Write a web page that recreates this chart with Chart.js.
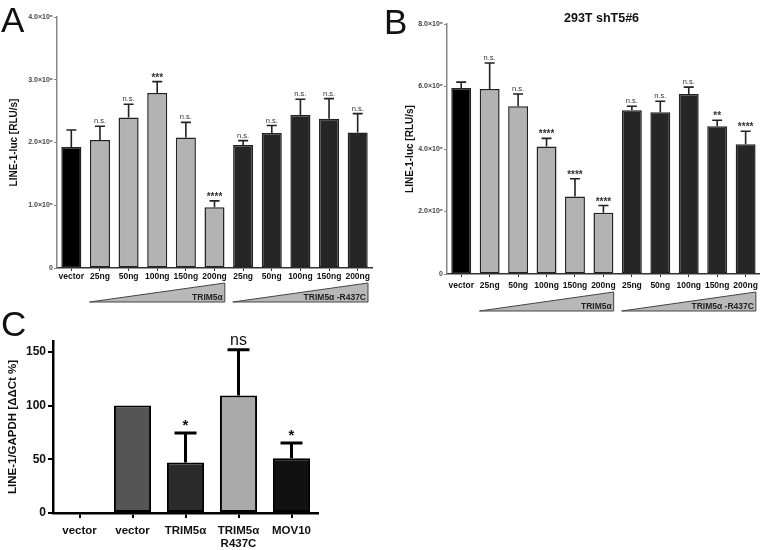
<!DOCTYPE html>
<html><head><meta charset="utf-8">
<script src="https://cdn.jsdelivr.net/npm/chart.js@4/dist/chart.umd.min.js"></script>
<style>
body{margin:0;background:#fff;width:762px;height:550px;position:relative;overflow:hidden;font-family:Arial,"Liberation Sans",sans-serif}
canvas{position:absolute}
.letter{position:absolute;font-size:35px;line-height:1;color:#111;font-family:Arial,"Liberation Sans",sans-serif}
.title{position:absolute;font-weight:bold;font-size:12.5px;color:#111;font-family:Arial,"Liberation Sans",sans-serif}
</style></head><body>
<canvas id="cA" width="380" height="320" style="left:0;top:0"></canvas>
<canvas id="cB" width="382" height="330" style="left:380px;top:0"></canvas>
<canvas id="cC" width="400" height="250" style="left:0;top:300px"></canvas>
<div class="letter" style="left:1px;top:2px">A</div>
<div class="letter" style="left:384px;top:4px">B</div>
<div class="letter" style="left:1px;top:306px">C</div>
<div class="title" style="left:564px;top:11px">293T shT5#6</div>
<script>
// ---------- data ----------
const doseLabels = ['vector','25ng','50ng','100ng','150ng','200ng','25ng','50ng','100ng','150ng','200ng'];
const groupNames = ['TRIM5\u03b1', 'TRIM5\u03b1 -R437C'];
const aValues = [1.93e6, 2.04e6, 2.40e6, 2.79e6, 2.08e6, 0.97e6, 1.96e6, 2.15e6, 2.44e6, 2.38e6, 2.16e6];
const aErrors = [0.27e6, 0.22e6, 0.21e6, 0.18e6, 0.24e6, 0.10e6, 0.07e6, 0.12e6, 0.25e6, 0.32e6, 0.30e6];
const aSig = ['', 'n.s.', 'n.s.', '***', 'n.s.', '****', 'n.s.', 'n.s.', 'n.s.', 'n.s.', 'n.s.'];
const aTicks = [0, 1e6, 2e6, 3e6, 4e6];
const bValues = [5.95e6, 5.92e6, 5.37e6, 4.08e6, 2.48e6, 1.96e6, 5.24e6, 5.18e6, 5.76e6, 4.73e6, 4.15e6];
const bErrors = [0.19e6, 0.83e6, 0.39e6, 0.26e6, 0.57e6, 0.23e6, 0.13e6, 0.35e6, 0.22e6, 0.19e6, 0.42e6];
const bSig = ['', 'n.s.', 'n.s.', '****', '****', '****', 'n.s.', 'n.s.', 'n.s.', '**', '****'];
const bTicks = [0, 2e6, 4e6, 6e6, 8e6];
const cLabels = ['vector', 'vector', 'TRIM5\u03b1', ['TRIM5\u03b1', 'R437C'], 'MOV10'];
const cValues = [0, 100, 46.9, 109.3, 51];
const cErrors = [null, null, 27.6, 42.6, 14.2];
const cSig = ['', '', '*', 'ns', '*'];
const cTicks = [0, 50, 100, 150];

const FONT = 'Arial, "Liberation Sans", sans-serif';
const abColors = ['#000000','#b3b3b3','#b3b3b3','#b3b3b3','#b3b3b3','#b3b3b3','#262626','#262626','#262626','#262626','#262626'];
const cColors = ['#ffffff','#555555','#2b2b2b','#aaaaaa','#111111'];

const annot = {
  id: 'annot',
  afterDatasetsDraw(chart, args, o) {
    const ctx = chart.ctx, ys = chart.scales.y, xs = chart.scales.x;
    const meta = chart.getDatasetMeta(0);
    ctx.save();
    o.values.forEach((v, i) => {
      const e = o.errors[i];
      if (e == null) return;
      const x = meta.data[i].x;
      const y0 = ys.getPixelForValue(v), y1 = ys.getPixelForValue(v + e);
      ctx.strokeStyle = o.errColor; ctx.lineWidth = o.errWidth; ctx.lineCap = 'butt';
      ctx.beginPath();
      ctx.moveTo(x, y0); ctx.lineTo(x, y1);
      ctx.moveTo(x - o.cap / 2, y1); ctx.lineTo(x + o.cap / 2, y1);
      ctx.stroke();
      const s = o.sig[i];
      if (s) {
        const isNs = s[0] === 'n';
        ctx.font = isNs ? o.nsFont : o.starFont;
        ctx.fillStyle = o.textColor; ctx.textAlign = 'center'; ctx.textBaseline = 'alphabetic';
        ctx.fillText(s, x, y1 + (isNs ? o.nsOff : o.starOff));
      }
    });
    if (o.groups) {
      const slot = xs.getPixelForValue(1) - xs.getPixelForValue(0);
      const b = chart.chartArea.bottom;
      o.groups.forEach(g => {
        const l = xs.getPixelForValue(g.from) - slot * 0.36;
        const r = xs.getPixelForValue(g.to) + slot * 0.36;
        const t = b + o.triTop, bt = b + o.triBot;
        ctx.beginPath();
        ctx.moveTo(l, bt); ctx.lineTo(r, t); ctx.lineTo(r, bt); ctx.closePath();
        ctx.fillStyle = '#b8b8b8'; ctx.fill();
        ctx.strokeStyle = '#444'; ctx.lineWidth = 1; ctx.stroke();
        ctx.font = 'bold 8.5px ' + FONT; ctx.fillStyle = '#222'; ctx.textAlign = 'right';
        ctx.fillText(g.name, r - 2, bt - 2);
      });
    }
    ctx.restore();
  }
};

function luc(id, values, errors, sig, ticks, max, pad, yW, xH, yTitleSize, triTop, triBot, labPad) {
  return new Chart(document.getElementById(id), {
    type: 'bar',
    data: { labels: doseLabels, datasets: [{ data: values, backgroundColor: abColors, borderColor: '#222', borderWidth: 1.5, borderSkipped: false, barPercentage: 0.7, categoryPercentage: 1.0 }] },
    options: {
      responsive: false, animation: false, devicePixelRatio: 1,
      layout: { padding: pad },
      plugins: { legend: { display: false }, tooltip: { enabled: false },
        annot: { values, errors, sig, errColor: '#222', errWidth: 1.6, cap: 10, nsFont: '7.5px ' + FONT, starFont: 'bold 10px ' + FONT, textColor: '#333', nsOff: -3, starOff: -1,
          groups: [{ from: 1, to: 5, name: groupNames[0] }, { from: 6, to: 10, name: groupNames[1] }], triTop, triBot } },
      scales: {
        x: { grid: { display: true, drawOnChartArea: false, offset: false, tickLength: 3, color: '#333' }, border: { color: '#333', width: 1.5 },
             ticks: { color: '#111', font: { family: FONT, size: 8.5, weight: 'bold' }, padding: labPad, maxRotation: 0, autoSkip: false },
             afterFit: s => { s.height = xH; } },
        y: { min: 0, max: max, grid: { display: true, drawOnChartArea: false, tickLength: 3, color: '#888' }, border: { color: '#888', width: 1.5 },
             afterBuildTicks: s => { s.ticks = ticks.map(v => ({ value: v })); },
             ticks: { color: '#444', font: { family: FONT, size: 7, weight: 'bold' }, padding: 1,
                      callback: v => v === 0 ? '0' : (v / 1e6).toFixed(1) + '\u00d710\u2076' },
             title: { display: true, text: 'LINE-1-luc [RLU/s]', color: '#111', font: { family: FONT, size: yTitleSize, weight: 'bold' }, padding: 0 },
             afterFit: s => { s.width = yW; } }
      }
    },
    plugins: [annot]
  });
}

luc('cA', aValues, aErrors, aSig, aTicks, 4e6, { left: 8, right: 8, top: 17, bottom: 38 }, 49, 14, 10, 15, 34, 1);
luc('cB', bValues, bErrors, bSig, bTicks, 8e6, { left: 24, right: 2, top: 24, bottom: 40 }, 43, 16, 10, 18, 37, 4);

new Chart(document.getElementById('cC'), {
  type: 'bar',
  data: { labels: cLabels, datasets: [{ data: cValues, backgroundColor: cColors, borderColor: '#000', borderWidth: 2, borderSkipped: false, barPercentage: 0.7, categoryPercentage: 1.0 }] },
  options: {
    responsive: false, animation: false, devicePixelRatio: 1,
    layout: { padding: { left: 6, right: 82, top: 41, bottom: 3 } },
    plugins: { legend: { display: false }, tooltip: { enabled: false },
      annot: { values: cValues, errors: cErrors, sig: cSig, errColor: '#000', errWidth: 3, cap: 22, nsFont: '16px ' + FONT, starFont: 'bold 15px ' + FONT, textColor: '#111', nsOff: -5, starOff: -3 } },
    scales: {
      x: { grid: { display: true, drawOnChartArea: false, offset: false, tickLength: 5, color: '#000', lineWidth: 2 }, border: { color: '#000', width: 2.5 },
           ticks: { color: '#111', font: { family: FONT, size: 11.5, weight: 'bold', lineHeight: 1.1 }, padding: 7, maxRotation: 0, autoSkip: false },
           afterFit: s => { s.height = 34; } },
      y: { min: 0, max: 160, grid: { display: true, drawOnChartArea: false, tickLength: 5, color: '#000', lineWidth: 2 }, border: { color: '#000', width: 2.5 },
           afterBuildTicks: s => { s.ticks = cTicks.map(v => ({ value: v })); },
           ticks: { color: '#111', font: { family: FONT, size: 12, weight: 'bold' }, padding: 2 },
           title: { display: true, text: 'LINE-1/GAPDH [\u0394\u0394Ct %]', color: '#111', font: { family: FONT, size: 11.5, weight: 'bold' }, padding: 0 },
           afterFit: s => { s.width = 47; } }
    }
  },
  plugins: [annot]
});
</script>
</body></html>
